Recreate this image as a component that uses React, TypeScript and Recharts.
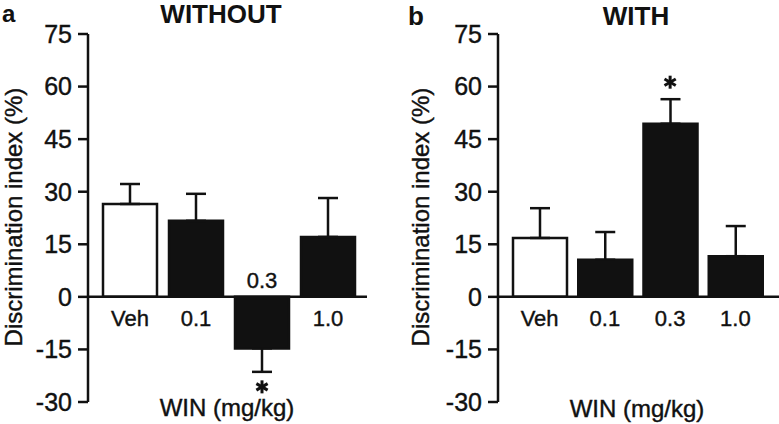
import React from 'react'
import { BarChart, Bar, XAxis, YAxis, Cell, ErrorBar, ReferenceLine, ReferenceDot } from 'recharts'

const categories = ['Veh', '0.1', '0.3', '1.0']
const withoutMean = [26.5, 21.7, -14.7, 17.1]
const withoutSem = [5.7, 7.7, 6.7, 11.1]
const withoutSig = [false, false, true, false]
const withMean = [16.8, 10.6, 49.4, 11.6]
const withSem = [8.5, 7.9, 7.0, 8.6]
const withSig = [false, false, true, false]
const yTicks = [-30, -15, 0, 15, 30, 45, 60, 75]

const FONT = '"Liberation Sans", Arial, Helvetica, sans-serif'
const INK = '#111'

function buildRows(means: number[], sems: number[], sig: boolean[]) {
  return categories.map((name, i) => ({
    name,
    mean: means[i],
    // one-sided error bars, pointing away from zero
    err: means[i] >= 0 ? [0, sems[i]] : [sems[i], 0],
    tip: means[i] >= 0 ? means[i] + sems[i] : means[i] - sems[i],
    sig: sig[i],
  }))
}

const rowsWithout = buildRows(withoutMean, withoutSem, withoutSig)
const rowsWith = buildRows(withMean, withSem, withSig)

function Star({ cx, cy }: { cx: number; cy: number }) {
  const spokes = [0, 60, 120, 180, 240, 300]
  return (
    <g>
      {spokes.map((a) => {
        const r = (a - 90) * (Math.PI / 180)
        return (
          <line key={a} x1={cx} y1={cy} x2={cx + 6.5 * Math.cos(r)} y2={cy + 6.5 * Math.sin(r)}
            stroke={INK} strokeWidth={3} />
        )
      })}
    </g>
  )
}

interface PanelProps {
  rows: any[]
  width: number
  yAxisWidth: number
  marginRight: number
  padLeft: number
  padRight: number
}

function Panel({ rows, width, yAxisWidth, marginRight, padLeft, padRight }: PanelProps) {
  return (
    <BarChart width={width} height={424} data={rows}
      margin={{ top: 34, right: marginRight, bottom: 22, left: 0 }}>
      <XAxis dataKey="name" hide height={0} padding={{ left: padLeft, right: padRight }} />
      <YAxis domain={[-30, 75]} ticks={yTicks} width={yAxisWidth} interval={0}
        axisLine={{ stroke: INK, strokeWidth: 2.5 }}
        tickLine={{ stroke: INK, strokeWidth: 2.5 }}
        tickSize={10} tickMargin={6}
        tick={{ fill: INK, fontSize: 25, fontFamily: FONT, stroke: INK, strokeWidth: 0.4 }} />
      <Bar dataKey="mean" barSize={54} isAnimationActive={false}>
        {rows.map((r, i) => (
          <Cell key={`c-${i}`} fill={i === 0 ? '#fff' : INK} stroke={INK} strokeWidth={2.5} />
        ))}
        <ErrorBar dataKey="err" direction="y" width={10} stroke={INK} strokeWidth={2.5}
          isAnimationActive={false} />
      </Bar>
      <ReferenceLine y={0} stroke={INK} strokeWidth={2.5} />
      {rows.map((r) => (
        <ReferenceDot key={`l-${r.name}`} x={r.name} y={0} r={0}
          shape={(p: any) => (
            <text x={p.cx} y={r.mean < 0 ? p.cy - 9 : p.cy + 29} textAnchor="middle"
              fill={INK} stroke={INK} strokeWidth={0.4} fontSize={22} fontFamily={FONT}>{r.name}</text>
          )} />
      ))}
      {rows.filter((r) => r.sig).map((r) => (
        <ReferenceDot key={`s-${r.name}`} x={r.name} y={r.tip} r={0}
          shape={(p: any) => <Star cx={p.cx} cy={r.mean < 0 ? p.cy + 15 : p.cy - 17} />} />
      ))}
    </BarChart>
  )
}

export default function App() {
  const yLabel = 'Discrimination index (%)'
  return (
    <div style={{ position: 'absolute', left: 0, top: 0, width: 779, height: 424, background: '#fff', fontFamily: FONT }}>
      <div style={{ display: 'flex' }}>
        <Panel rows={rowsWithout} width={390} yAxisWidth={88} marginRight={23} padLeft={9} padRight={6} />
        <Panel rows={rowsWith} width={389} yAxisWidth={108} marginRight={0} padLeft={9} padRight={11} />
      </div>
      <svg width={779} height={424} style={{ position: 'absolute', left: 0, top: 0, pointerEvents: 'none' }}>
        <g fill={INK} fontFamily={FONT}>
          <text x={2} y={22} fontSize={24} fontWeight="bold">a</text>
          <text x={221} y={23} fontSize={26} fontWeight="bold" textAnchor="middle">WITHOUT</text>
          <text x={408} y={25} fontSize={26} fontWeight="bold">b</text>
          <text x={636} y={25} fontSize={26} fontWeight="bold" textAnchor="middle">WITH</text>
          <g stroke={INK} strokeWidth={0.4}>
            <text x={227} y={416} fontSize={24} textAnchor="middle">WIN (mg/kg)</text>
            <text x={637} y={417} fontSize={24} textAnchor="middle">WIN (mg/kg)</text>
            <text transform="translate(13,217) rotate(-90)" fontSize={24} textAnchor="middle"
              dominantBaseline="central">{yLabel}</text>
            <text transform="translate(420,217) rotate(-90)" fontSize={24} textAnchor="middle"
              dominantBaseline="central">{yLabel}</text>
          </g>
        </g>
      </svg>
    </div>
  )
}
